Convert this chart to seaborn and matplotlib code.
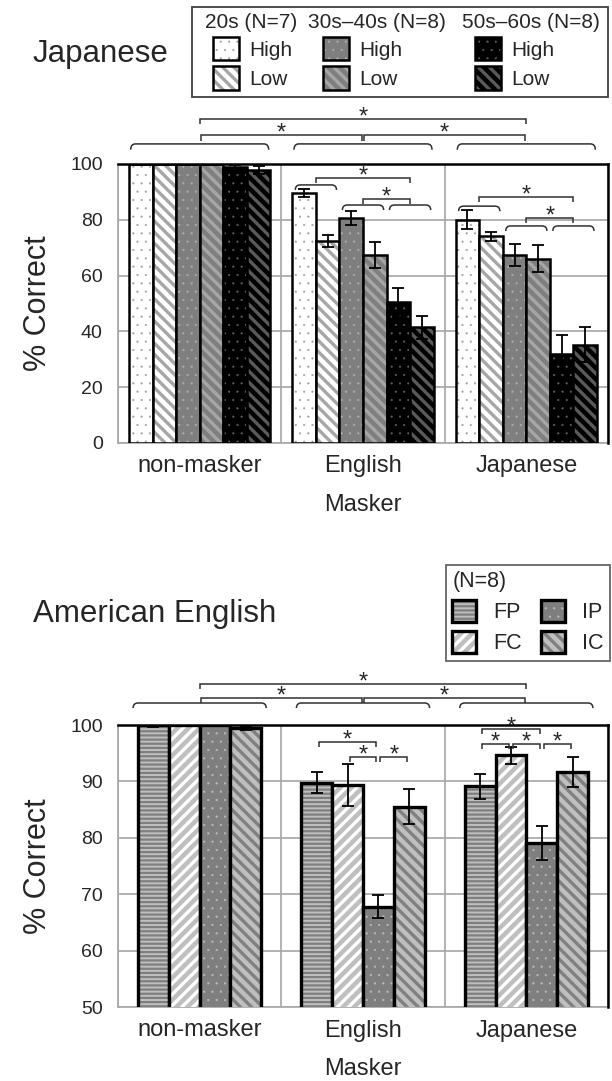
import numpy as np
import pandas as pd
import seaborn as sns
import matplotlib.pyplot as plt
import matplotlib.colors as mcolors
from matplotlib.path import Path
from matplotlib.patches import PathPatch, Rectangle

sns.set_theme(style="white")
plt.rcParams["font.family"] = ["Liberation Sans", "DejaVu Sans"]
plt.rcParams["hatch.linewidth"] = 2.4

maskers = ["non-masker", "English", "Japanese"]

# top panel: Japanese listeners, age group x predictability
jp_groups = ["20s High", "20s Low", "30s-40s High", "30s-40s Low", "50s-60s High", "50s-60s Low"]
jp_labels = ["High", "Low"] * 3
jp_headers = ["20s (N=7)", "30s\u201340s (N=8)", "50s\u201360s (N=8)"]
jp_scores = [
    [100.0, 100.0, 100.0, 100.0, 98.8, 97.8],   # non-masker
    [89.5, 72.4, 80.6, 67.3, 50.5, 41.4],       # English masker
    [80.0, 74.1, 67.3, 66.0, 32.0, 35.3],       # Japanese masker
]
jp_err = [
    [0.2, 0.2, 0.2, 0.2, 1.0, 1.5],
    [1.5, 2.0, 2.5, 4.7, 5.2, 4.0],
    [3.4, 1.6, 3.9, 4.8, 6.7, 6.2],
]

# bottom panel: American English listeners, condition
ae_conds = ["FP", "FC", "IP", "IC"]
ae_scores = [
    [100.0, 100.0, 100.0, 99.4],
    [89.8, 89.4, 67.8, 85.5],
    [89.1, 94.6, 79.1, 91.7],
]
ae_err = [
    [0.3, 0.1, 0.1, 0.3],
    [1.9, 3.7, 2.1, 3.1],
    [2.2, 1.5, 3.0, 2.7],
]

# styles
jp_face = ["white", "white", "#7f7f7f", "#7f7f7f", "black", "black"]
jp_hatch = ["..", "\\\\\\", "..", "\\\\\\", "..", "\\\\\\"]
jp_hcol = ["#a0a0a0", "#a6a6a6", "#b0b0b0", "#a6a6a6", "#606060", "#5a5a5a"]
ae_face = ["#bfbfbf", "#bfbfbf", "#7f7f7f", "#bfbfbf"]
ae_hatch = ["----", "///", "..", "\\\\\\"]
ae_hcol = ["#7f7f7f", "white", "#c0c0c0", "#808080"]

GRID = "#a6a6a6"
LINE = "#303030"


def set_hlw(bar, lw):
    if hasattr(bar, "set_hatch_linewidth"):
        bar.set_hatch_linewidth(lw)
    else:
        bar._hatch_linewidth = lw


def fix_hatch(bar, h, hc):
    bar.set_hatch(h)
    bar._hatch_color = mcolors.to_rgba(hc)
    if "." in h:
        set_hlw(bar, 0.3)
    elif "-" in h:
        set_hlw(bar, 1.6)


def style_bars(ax, groups, scores, errs, faces, hatches, hcols, lw):
    df = pd.DataFrame({
        "masker": np.repeat(maskers, len(groups)),
        "group": groups * len(maskers),
        "score": np.ravel(scores),
    })
    sns.barplot(data=df, x="masker", y="score", hue="group", hue_order=groups,
                order=maskers, palette=dict(zip(groups, faces)), saturation=1,
                width=0.865 if len(groups) == 6 else 0.755, errorbar=None,
                edgecolor="black", linewidth=lw, legend=False, ax=ax, zorder=3)
    for cont, h, hc, e in zip(ax.containers, hatches, hcols, np.array(errs).T):
        for bar in cont:
            fix_hatch(bar, h, hc)
        xs = [b.get_x() + b.get_width() / 2 for b in cont]
        ys = [b.get_height() for b in cont]
        ax.errorbar(xs, ys, yerr=e, fmt="none", ecolor="black", elinewidth=1.3,
                    capsize=4, capthick=1.3, zorder=4)


def style_axes(ax, ymin, step, minor=None):
    ax.set_xlim(-0.5, 2.5)
    ax.set_ylim(ymin, 100)
    ax.set_yticks(np.arange(ymin, 101, step))
    if minor is not None:
        ax.set_yticks(minor, minor=True)
        ax.tick_params(axis="y", which="minor", direction="in", length=3,
                       color=GRID, width=1.0)
    ax.set_xticks([0, 1, 2])
    ax.set_xticks([-0.5, 0.5, 1.5, 2.5], minor=True)
    ax.tick_params(axis="x", which="major", length=0, pad=9, labelsize=17)
    ax.tick_params(axis="x", which="minor", direction="out", length=6,
                   color=GRID, width=1.2)
    ax.tick_params(axis="y", which="major", direction="out", length=5,
                   color=GRID, width=1.2, labelsize=14, pad=6)
    ax.grid(axis="x", which="minor", color=GRID, lw=1.2)
    ax.grid(axis="y", which="major", color=GRID, lw=1.2)
    ax.set_axisbelow(True)
    for s in ("top", "right"):
        ax.spines[s].set_color("black")
        ax.spines[s].set_linewidth(1.8)
        ax.spines[s].set_zorder(5)
    for s in ("left", "bottom"):
        ax.spines[s].set_color(GRID)
        ax.spines[s].set_linewidth(1.2)
    ax.set_xlabel("Masker", fontsize=17, labelpad=12)
    ax.set_ylabel("% Correct", fontsize=22, labelpad=12)


def bracket(ax, x0, x1, y, h, trans, rounded=False):
    if rounded:
        r = 0.03
        verts = [(x0, y - h), (x0, y), (x0 + r, y), (x1 - r, y), (x1, y), (x1, y - h)]
        codes = [Path.MOVETO, Path.CURVE3, Path.CURVE3, Path.LINETO, Path.CURVE3, Path.CURVE3]
    else:
        verts = [(x0, y - h), (x0, y), (x1, y), (x1, y - h)]
        codes = [Path.MOVETO, Path.LINETO, Path.LINETO, Path.LINETO]
    ax.add_patch(PathPatch(Path(verts, codes), fill=False, lw=1.1, edgecolor=LINE,
                           transform=trans, clip_on=False, zorder=6))


def star(ax, x, y, trans):
    ax.annotate("*", xy=(x, y), xycoords=trans, xytext=(0, -3),
                textcoords="offset points", ha="center", va="baseline",
                fontsize=17, annotation_clip=False)


def span(ax, idx, cat, inset=0.018):
    bars = [ax.containers[i][cat] for i in idx]
    x0 = min(b.get_x() for b in bars) + inset
    x1 = max(b.get_x() + b.get_width() for b in bars) - inset
    return x0, x1


def sig(ax, x0, x1, y, h, trans, gap=0.0):
    bracket(ax, x0 + gap, x1 - gap, y, h, trans)
    star(ax, (x0 + x1) / 2, y, trans)


fig = plt.figure(figsize=(6.12, 10.81), dpi=100)
ax1 = fig.add_axes([118 / 612, 1 - 443 / 1081, 490 / 612, 279 / 1081])
ax2 = fig.add_axes([118 / 612, 1 - 1007 / 1081, 490 / 612, 282 / 1081])

# ---- top panel
style_bars(ax1, jp_groups, jp_scores, jp_err, jp_face, jp_hatch, jp_hcol, 1.8)
style_axes(ax1, 0, 20, minor=np.arange(10, 100, 20))
ta = ax1.get_xaxis_transform()
for c in range(3):
    x0, x1 = span(ax1, range(6), c, 0.01)
    bracket(ax1, x0, x1, 1.072, 0.021, ta, rounded=True)
sig(ax1, 0, 1, 1.104, 0.022, ta, gap=0.006)
sig(ax1, 1, 2, 1.104, 0.022, ta, gap=0.006)
sig(ax1, 0, 2, 1.161, 0.018, ta)
td = ax1.transData
for c, brace_y, top_y, mid_y in [(1, (92.5, 85.3, 85.3), 95.0, 87.5),
                                  (2, (84.9, 77.8, 77.8), 88.2, 80.6)]:
    cen = []
    for k in range(3):
        x0, x1 = span(ax1, (2 * k, 2 * k + 1), c)
        bracket(ax1, x0, x1, brace_y[k], 1.8, td, rounded=True)
        cen.append((x0 + x1) / 2)
    sig(ax1, cen[0], cen[2], top_y, 1.8, td)
    sig(ax1, cen[1], cen[2], mid_y, 1.8, td)

# ---- bottom panel
style_bars(ax2, ae_conds, ae_scores, ae_err, ae_face, ae_hatch, ae_hcol, 2.4)
style_axes(ax2, 50, 10)
ba = ax2.get_xaxis_transform()
for c in range(3):
    x0, x1 = span(ax2, range(4), c, -0.03)
    bracket(ax2, x0, x1, 1.078, 0.018, ba, rounded=True)
sig(ax2, 0, 1, 1.096, 0.018, ba, gap=0.006)
sig(ax2, 1, 2, 1.096, 0.018, ba, gap=0.006)
sig(ax2, 0, 2, 1.145, 0.018, ba)
bd = ax2.transData


def cx(c, i):
    b = ax2.containers[i][c]
    return b.get_x() + b.get_width() / 2


for c, pairs in [(1, [(0, 2, 97.0), (1, 2, 94.3), (2, 3, 94.3)]),
                 (2, [(0, 2, 99.3), (0, 1, 96.6), (1, 2, 96.6), (2, 3, 96.6)])]:
    for i, j, y in pairs:
        sig(ax2, cx(c, i), cx(c, j), y, 0.9, bd, gap=0.012)

# ---- titles
fig.text(33 / 612, 1 - 62 / 1081, "Japanese", fontsize=22.5, va="baseline")
fig.text(33 / 612, 1 - 622 / 1081, "American English", fontsize=22.5, va="baseline")

# ---- top legend (three columns, one per age group)
fig.add_artist(Rectangle((192 / 612, 1 - 97 / 1081), 416 / 612, 90 / 1081,
                         transform=fig.transFigure, fill=False,
                         edgecolor="#404040", lw=1.3))
for k, (hx, lx) in enumerate([(205, 213), (308, 323), (462, 475)]):
    fig.text(hx / 612, 1 - 28 / 1081, jp_headers[k], fontsize=15, va="baseline")
    handles = [ax1.containers[2 * k][0], ax1.containers[2 * k + 1][0]]
    lg = fig.legend(handles, jp_labels[2 * k:2 * k + 2], loc="upper left",
                    bbox_to_anchor=(lx / 612, 1 - 37 / 1081), frameon=False,
                    borderpad=0, borderaxespad=0, handlelength=1.25, handleheight=1.35,
                    handletextpad=0.5, labelspacing=0.28, fontsize=15)
    for p, h, hc in zip(lg.legend_handles, jp_hatch[2 * k:2 * k + 2], jp_hcol[2 * k:2 * k + 2]):
        fix_hatch(p, h, hc)

# ---- bottom legend
leg = fig.legend([c[0] for c in ax2.containers], ae_conds, ncol=2, title="(N=8)",
                 loc="upper left", bbox_to_anchor=(446 / 612, 1 - 565 / 1081),
                 borderaxespad=0, borderpad=0.3, handlelength=1.1, handleheight=1.2,
                 handletextpad=0.8, columnspacing=0.9, labelspacing=0.35,
                 fontsize=15.5, title_fontsize=15.5, alignment="left",
                 fancybox=False, frameon=True)
leg.get_frame().set_edgecolor("#404040")
leg.get_frame().set_linewidth(1.3)
for p, h, hc in zip(leg.legend_handles, ae_hatch, ae_hcol):
    fix_hatch(p, h, hc)

fig.savefig("out.png", dpi=100)
